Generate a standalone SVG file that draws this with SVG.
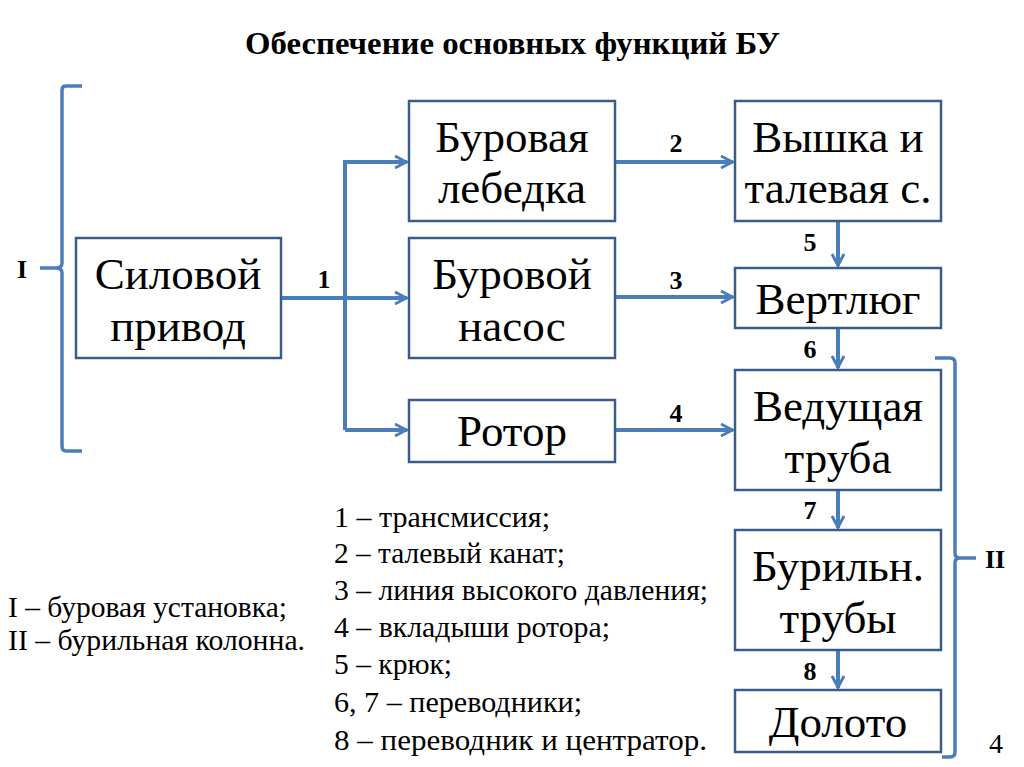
<svg xmlns="http://www.w3.org/2000/svg" width="1024" height="767" viewBox="0 0 1024 767">
<style>
.box{fill:#fff;stroke:#385D8A;stroke-width:2.5}
.bt{font-family:"Liberation Serif","Times New Roman",serif;font-size:45px;fill:#000;text-anchor:middle}
.ln{fill:none;stroke:#4A7EBB;stroke-width:4}
.br{fill:none;stroke:#4A7EBB;stroke-width:3.5}
.lb{font-family:"Liberation Serif","Times New Roman",serif;font-weight:bold;font-size:26px;fill:#000;text-anchor:middle}
.lg{font-family:"Liberation Serif","Times New Roman",serif;font-size:29px;fill:#000}
</style>
<defs>
<marker id="ah" viewBox="0 0 12 12" refX="11" refY="6" markerWidth="4" markerHeight="4" markerUnits="strokeWidth" orient="auto">
<polyline points="2,1.5 10.5,6 2,10.5" fill="none" stroke="#4A7EBB" stroke-width="2.2"/>
</marker>
</defs>
<rect width="1024" height="767" fill="#fff"/>
<text x="245" y="54" font-family="'Liberation Serif','Times New Roman',serif" font-weight="bold" font-size="32" textLength="535" lengthAdjust="spacingAndGlyphs">Обеспечение основных функций БУ</text>

<g id="bracket-I">
<path class="br" d="M82,86 L66,86 Q62,86 62,90 L62,263 Q62,268 56,268 L40,268 M56,268 Q62,268 62,273 L62,446 Q62,451 66,451 L82,451"/>
<text x="22" y="278" class="lb" font-size="27">I</text>
</g>
<g id="bracket-II">
<path class="br" d="M935,358 L950,358 Q955,358 955,363 L955,553 Q955,558 960,558 L976,558 M960,558 Q955,558 955,563 L955,752 Q955,757 950,757 L942,757"/>
<text x="995" y="568" class="lb" font-size="27">II</text>
</g>

<g id="connectors">
<path class="ln" d="M281,298 L407,298" marker-end="url(#ah)"/>
<path class="ln" d="M345,430 L345,162 L407,162" marker-end="url(#ah)"/>
<path class="ln" d="M345,430 L407,430" marker-end="url(#ah)"/>
<path class="ln" d="M615,162 L733,162" marker-end="url(#ah)"/>
<path class="ln" d="M615,297 L733,297" marker-end="url(#ah)"/>
<path class="ln" d="M615,430 L733,430" marker-end="url(#ah)"/>
<path class="ln" d="M838,221 L838,266" marker-end="url(#ah)"/>
<path class="ln" d="M838,328 L838,368" marker-end="url(#ah)"/>
<path class="ln" d="M838,490 L838,528" marker-end="url(#ah)"/>
<path class="ln" d="M838,650 L838,688" marker-end="url(#ah)"/>
<text x="324" y="288" class="lb">1</text>
<text x="676" y="152" class="lb">2</text>
<text x="676" y="289" class="lb">3</text>
<text x="676" y="422" class="lb">4</text>
<text x="810" y="251" class="lb">5</text>
<text x="810" y="358" class="lb">6</text>
<text x="810" y="519" class="lb">7</text>
<text x="810" y="680" class="lb">8</text>
</g>

<g id="silovoy"><rect class="box" x="76" y="238" width="205" height="120"/><text class="bt" x="178" y="289">Силовой</text><text class="bt" x="178" y="341">привод</text></g>
<g id="lebedka"><rect class="box" x="409" y="101" width="206" height="120"/><text class="bt" x="512" y="152">Буровая</text><text class="bt" x="512" y="203">лебедка</text></g>
<g id="nasos"><rect class="box" x="409" y="238" width="206" height="120"/><text class="bt" x="512" y="289">Буровой</text><text class="bt" x="512" y="341">насос</text></g>
<g id="rotor"><rect class="box" x="409" y="400" width="206" height="62"/><text class="bt" x="512" y="446">Ротор</text></g>
<g id="vyshka"><rect class="box" x="735" y="101" width="206" height="120"/><text class="bt" x="838" y="152">Вышка и</text><text class="bt" x="838" y="203">талевая с.</text></g>
<g id="vertlyug"><rect class="box" x="735" y="268" width="206" height="60"/><text class="bt" x="838" y="314">Вертлюг</text></g>
<g id="vedushchaya"><rect class="box" x="735" y="370" width="206" height="120"/><text class="bt" x="838" y="421">Ведущая</text><text class="bt" x="838" y="473">труба</text></g>
<g id="burilnye"><rect class="box" x="735" y="530" width="206" height="120"/><text class="bt" x="838" y="581">Бурильн.</text><text class="bt" x="838" y="633">трубы</text></g>
<g id="doloto"><rect class="box" x="735" y="690" width="206" height="62"/><text class="bt" x="838" y="737">Долото</text></g>

<g id="legend">
<text class="lg" x="8" y="617" textLength="279" lengthAdjust="spacingAndGlyphs">I – буровая установка;</text>
<text class="lg" x="8" y="650" textLength="297" lengthAdjust="spacingAndGlyphs">II – бурильная колонна.</text>
<text class="lg" x="334" y="527" textLength="216" lengthAdjust="spacingAndGlyphs">1 – трансмиссия;</text>
<text class="lg" x="334" y="563" textLength="231" lengthAdjust="spacingAndGlyphs">2 – талевый канат;</text>
<text class="lg" x="334" y="600" textLength="374" lengthAdjust="spacingAndGlyphs">3 – линия высокого давления;</text>
<text class="lg" x="334" y="637" textLength="276" lengthAdjust="spacingAndGlyphs">4 – вкладыши ротора;</text>
<text class="lg" x="334" y="674" textLength="118" lengthAdjust="spacingAndGlyphs">5 – крюк;</text>
<text class="lg" x="334" y="712" textLength="248" lengthAdjust="spacingAndGlyphs">6, 7 – переводники;</text>
<text class="lg" x="334" y="750" textLength="373" lengthAdjust="spacingAndGlyphs">8 – переводник и центратор.</text>
<text x="996" y="753" font-family="'Liberation Serif','Times New Roman',serif" font-size="28" text-anchor="middle">4</text>
</g>
</svg>
